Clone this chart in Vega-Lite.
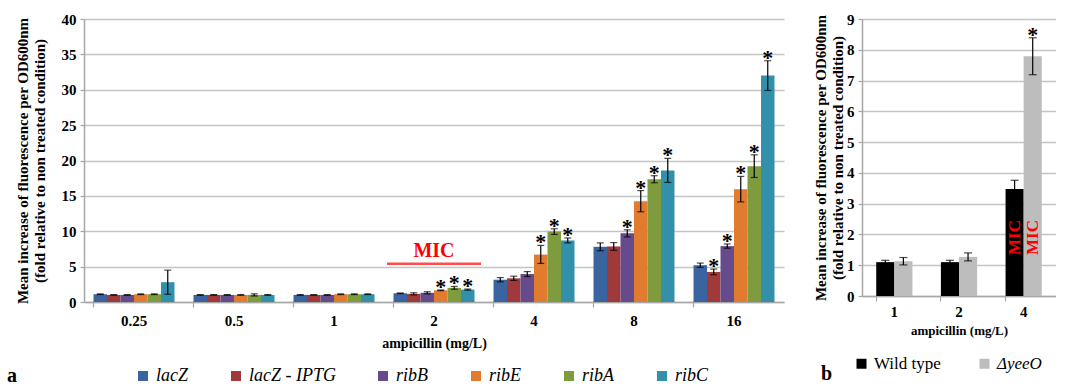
{
  "$schema": "https://vega.github.io/schema/vega-lite/v6.json",
  "padding": {"left": 7, "top": 12, "right": 0, "bottom": 0},
  "spacing": 29,
  "resolve": {"scale": {"x": "independent", "xOffset": "independent", "y": "independent", "color": "independent"}, "legend": {"color": "independent"}},
  "config": {
    "font": "Liberation Serif, Times New Roman, serif",
    "view": {"stroke": null},
    "text": {"font": "Liberation Serif, Times New Roman, serif"},
    "axis": {
      "labelFont": "Liberation Serif, Times New Roman, serif", "labelFontWeight": "bold", "labelColor": "#000000", "labelFontSize": 15,
      "titleFont": "Liberation Serif, Times New Roman, serif", "titleFontWeight": "bold", "titleColor": "#000000", "titleFontSize": 15,
      "domainColor": "#A6A6A6", "domainWidth": 1.5, "tickColor": "#A6A6A6", "tickWidth": 1.2,
      "gridColor": "#C4C4C4", "gridWidth": 1.5, "labelOverlap": false
    },
    "axisY": {"tickCount": 12, "tickSize": 4, "labelPadding": 4, "grid": true, "titleLineHeight": 17},
    "axisX": {"grid": false, "bandPosition": 0, "tickSize": 5, "labelPadding": 6, "labelAngle": 0, "titlePadding": 8},
    "legend": {"labelFont": "Liberation Serif, Times New Roman, serif", "titleFont": "Liberation Serif, Times New Roman, serif"}
  },
  "datasets": {
    "a": [
      {"dose": "0.25", "gene": "lacZ", "mean": 1.1, "lo": 1.05, "hi": 1.15, "sig": 0},
      {"dose": "0.25", "gene": "lacZ - IPTG", "mean": 1.0, "lo": 0.95, "hi": 1.05, "sig": 0},
      {"dose": "0.25", "gene": "ribB", "mean": 1.0, "lo": 0.95, "hi": 1.05, "sig": 0},
      {"dose": "0.25", "gene": "ribE", "mean": 1.1, "lo": 1.05, "hi": 1.15, "sig": 0},
      {"dose": "0.25", "gene": "ribA", "mean": 1.1, "lo": 1.05, "hi": 1.15, "sig": 0},
      {"dose": "0.25", "gene": "ribC", "mean": 2.8, "lo": 1.1, "hi": 4.5, "sig": 0},
      {"dose": "0.5", "gene": "lacZ", "mean": 1.0, "lo": 0.95, "hi": 1.05, "sig": 0},
      {"dose": "0.5", "gene": "lacZ - IPTG", "mean": 1.0, "lo": 0.95, "hi": 1.05, "sig": 0},
      {"dose": "0.5", "gene": "ribB", "mean": 1.0, "lo": 0.95, "hi": 1.05, "sig": 0},
      {"dose": "0.5", "gene": "ribE", "mean": 1.0, "lo": 0.95, "hi": 1.05, "sig": 0},
      {"dose": "0.5", "gene": "ribA", "mean": 1.0, "lo": 0.85, "hi": 1.15, "sig": 0},
      {"dose": "0.5", "gene": "ribC", "mean": 1.0, "lo": 0.95, "hi": 1.05, "sig": 0},
      {"dose": "1", "gene": "lacZ", "mean": 1.0, "lo": 0.95, "hi": 1.05, "sig": 0},
      {"dose": "1", "gene": "lacZ - IPTG", "mean": 1.0, "lo": 0.95, "hi": 1.05, "sig": 0},
      {"dose": "1", "gene": "ribB", "mean": 1.0, "lo": 0.95, "hi": 1.05, "sig": 0},
      {"dose": "1", "gene": "ribE", "mean": 1.1, "lo": 1.05, "hi": 1.15, "sig": 0},
      {"dose": "1", "gene": "ribA", "mean": 1.1, "lo": 1.05, "hi": 1.15, "sig": 0},
      {"dose": "1", "gene": "ribC", "mean": 1.1, "lo": 1.05, "hi": 1.15, "sig": 0},
      {"dose": "2", "gene": "lacZ", "mean": 1.23, "lo": 1.18, "hi": 1.28, "sig": 0},
      {"dose": "2", "gene": "lacZ - IPTG", "mean": 1.15, "lo": 1.0, "hi": 1.3, "sig": 0},
      {"dose": "2", "gene": "ribB", "mean": 1.3, "lo": 1.15, "hi": 1.45, "sig": 0},
      {"dose": "2", "gene": "ribE", "mean": 1.65, "lo": 1.6, "hi": 1.7, "sig": 1},
      {"dose": "2", "gene": "ribA", "mean": 2.0, "lo": 1.8, "hi": 2.2, "sig": 1},
      {"dose": "2", "gene": "ribC", "mean": 1.75, "lo": 1.67, "hi": 1.83, "sig": 1},
      {"dose": "4", "gene": "lacZ", "mean": 3.15, "lo": 2.85, "hi": 3.45, "sig": 0},
      {"dose": "4", "gene": "lacZ - IPTG", "mean": 3.35, "lo": 3.05, "hi": 3.65, "sig": 0},
      {"dose": "4", "gene": "ribB", "mean": 3.95, "lo": 3.6, "hi": 4.3, "sig": 0},
      {"dose": "4", "gene": "ribE", "mean": 6.7, "lo": 5.45, "hi": 8.0, "sig": 1},
      {"dose": "4", "gene": "ribA", "mean": 9.95, "lo": 9.55, "hi": 10.35, "sig": 1},
      {"dose": "4", "gene": "ribC", "mean": 8.7, "lo": 8.35, "hi": 9.05, "sig": 1},
      {"dose": "8", "gene": "lacZ", "mean": 7.8, "lo": 7.25, "hi": 8.35, "sig": 0},
      {"dose": "8", "gene": "lacZ - IPTG", "mean": 7.85, "lo": 7.3, "hi": 8.4, "sig": 0},
      {"dose": "8", "gene": "ribB", "mean": 9.7, "lo": 9.2, "hi": 10.2, "sig": 1},
      {"dose": "8", "gene": "ribE", "mean": 14.25, "lo": 12.75, "hi": 15.75, "sig": 1},
      {"dose": "8", "gene": "ribA", "mean": 17.35, "lo": 16.85, "hi": 17.85, "sig": 1},
      {"dose": "8", "gene": "ribC", "mean": 18.6, "lo": 16.9, "hi": 20.3, "sig": 1},
      {"dose": "16", "gene": "lacZ", "mean": 5.2, "lo": 4.9, "hi": 5.5, "sig": 0},
      {"dose": "16", "gene": "lacZ - IPTG", "mean": 4.25, "lo": 3.85, "hi": 4.65, "sig": 1},
      {"dose": "16", "gene": "ribB", "mean": 7.9, "lo": 7.6, "hi": 8.2, "sig": 1},
      {"dose": "16", "gene": "ribE", "mean": 15.95, "lo": 14.15, "hi": 17.75, "sig": 1},
      {"dose": "16", "gene": "ribA", "mean": 19.2, "lo": 17.6, "hi": 20.8, "sig": 1},
      {"dose": "16", "gene": "ribC", "mean": 32.0, "lo": 29.9, "hi": 34.1, "sig": 1}
    ],
    "micA": [{"dose": "2", "level": 5.4, "label": "MIC"}],
    "b": [
      {"dose": "1", "strain": "Wild type", "mean": 1.1, "lo": 1.04, "hi": 1.16, "sig": 0},
      {"dose": "1", "strain": "ΔyeeO", "mean": 1.13, "lo": 1.01, "hi": 1.25, "sig": 0},
      {"dose": "2", "strain": "Wild type", "mean": 1.1, "lo": 1.04, "hi": 1.16, "sig": 0},
      {"dose": "2", "strain": "ΔyeeO", "mean": 1.27, "lo": 1.14, "hi": 1.4, "sig": 0},
      {"dose": "4", "strain": "Wild type", "mean": 3.48, "lo": 3.2, "hi": 3.76, "sig": 0},
      {"dose": "4", "strain": "ΔyeeO", "mean": 7.79, "lo": 7.19, "hi": 8.39, "sig": 1}
    ],
    "micB": [
      {"dose": "4", "strain": "Wild type", "level": 1.9, "label": "MIC"},
      {"dose": "4", "strain": "ΔyeeO", "level": 1.9, "label": "MIC"}
    ]
  },
  "hconcat": [
    {
      "width": 700,
      "height": 283,
      "data": {"name": "a"},
      "encoding": {
        "x": {
          "field": "dose", "type": "ordinal",
          "sort": ["0.25", "0.5", "1", "2", "4", "8", "16"],
          "scale": {"paddingInner": 0.19, "paddingOuter": 0.095},
          "title": "ampicillin (mg/L)",
          "axis": {"titleFontSize": 14}
        }
      },
      "layer": [
        {
          "mark": {"type": "bar"},
          "encoding": {
            "xOffset": {"field": "gene", "type": "nominal", "sort": ["lacZ", "lacZ - IPTG", "ribB", "ribE", "ribA", "ribC"], "scale": {"paddingInner": 0}},
            "y": {
              "field": "mean", "type": "quantitative",
              "scale": {"domain": [0, 40], "nice": false},
              "title": ["Mean increase of fluorescence per OD600nm", "(fold relative to non treated condition)"],
              "axis": {"values": [0, 5, 10, 15, 20, 25, 30, 35, 40], "tickCount": 12, "titlePadding": 14}
            },
            "color": {
              "field": "gene", "type": "nominal",
              "scale": {"domain": ["lacZ", "lacZ - IPTG", "ribB", "ribE", "ribA", "ribC"], "range": ["#3A64A0", "#A03A3A", "#654A8C", "#E07B30", "#7E9B3E", "#3390AB"]},
              "legend": {
                "orient": "none", "legendX": -77, "legendY": 348, "direction": "horizontal",
                "title": "a", "titleOrient": "left", "titleFontSize": 20, "titleFontWeight": "bold", "titleColor": "#000000", "titlePadding": 117,
                "symbolType": "square", "symbolSize": 100, "symbolStrokeWidth": 0, "symbolOpacity": 1,
                "labelFontSize": 18, "labelFontStyle": "italic", "labelColor": "#000000", "labelOffset": 4, "columnPadding": 38
              }
            }
          }
        },
        {
          "mark": {"type": "rule", "color": "#000000", "strokeWidth": 1.2},
          "encoding": {
            "xOffset": {"field": "gene", "type": "nominal", "sort": ["lacZ", "lacZ - IPTG", "ribB", "ribE", "ribA", "ribC"]},
            "y": {"field": "lo", "type": "quantitative", "axis": {"values": [0, 5, 10, 15, 20, 25, 30, 35, 40], "tickCount": 12, "titlePadding": 14}},
            "y2": {"field": "hi"}
          }
        },
        {
          "mark": {"type": "tick", "color": "#000000", "size": 7, "thickness": 1.2},
          "encoding": {
            "xOffset": {"field": "gene", "type": "nominal", "sort": ["lacZ", "lacZ - IPTG", "ribB", "ribE", "ribA", "ribC"]},
            "y": {"field": "lo", "type": "quantitative", "axis": {"values": [0, 5, 10, 15, 20, 25, 30, 35, 40], "tickCount": 12, "titlePadding": 14}}
          }
        },
        {
          "mark": {"type": "tick", "color": "#000000", "size": 7, "thickness": 1.2},
          "encoding": {
            "xOffset": {"field": "gene", "type": "nominal", "sort": ["lacZ", "lacZ - IPTG", "ribB", "ribE", "ribA", "ribC"]},
            "y": {"field": "hi", "type": "quantitative", "axis": {"values": [0, 5, 10, 15, 20, 25, 30, 35, 40], "tickCount": 12, "titlePadding": 14}}
          }
        },
        {
          "transform": [{"filter": "datum.sig == 1"}],
          "mark": {"type": "text", "text": "*", "fontSize": 22, "fontWeight": "bold", "color": "#000000", "baseline": "alphabetic", "dy": 4},
          "encoding": {
            "xOffset": {"field": "gene", "type": "nominal", "sort": ["lacZ", "lacZ - IPTG", "ribB", "ribE", "ribA", "ribC"]},
            "y": {"field": "hi", "type": "quantitative", "axis": {"values": [0, 5, 10, 15, 20, 25, 30, 35, 40], "tickCount": 12, "titlePadding": 14}}
          }
        },
        {
          "data": {"name": "micA"},
          "mark": {"type": "tick", "color": "#FF0000", "size": 94, "thickness": 2.5},
          "encoding": {"y": {"field": "level", "type": "quantitative", "axis": {"values": [0, 5, 10, 15, 20, 25, 30, 35, 40], "tickCount": 12, "titlePadding": 14}}}
        },
        {
          "data": {"name": "micA"},
          "mark": {"type": "text", "color": "#FF0000", "fontSize": 20, "fontWeight": "bold", "baseline": "alphabetic", "dy": -7},
          "encoding": {"y": {"field": "level", "type": "quantitative", "axis": {"values": [0, 5, 10, 15, 20, 25, 30, 35, 40], "tickCount": 12, "titlePadding": 14}}, "text": {"field": "label"}}
        }
      ]
    },
    {
      "width": 194,
      "height": 277,
      "data": {"name": "b"},
      "encoding": {
        "x": {
          "field": "dose", "type": "ordinal", "sort": ["1", "2", "4"],
          "scale": {"paddingInner": 0.44, "paddingOuter": 0.22},
          "title": "ampicillin (mg/L)",
          "axis": {"titleFontSize": 13, "labelPadding": 3, "titlePadding": 5}
        }
      },
      "layer": [
        {
          "mark": {"type": "bar"},
          "encoding": {
            "xOffset": {"field": "strain", "type": "nominal", "sort": ["Wild type", "ΔyeeO"], "scale": {"paddingInner": 0}},
            "y": {
              "field": "mean", "type": "quantitative",
              "scale": {"domain": [0, 9], "nice": false},
              "title": ["Mean increase of fluorescence per OD600nm", "(fold relative to non treated condition)"],
              "axis": {"values": [0, 1, 2, 3, 4, 5, 6, 7, 8, 9], "tickCount": 12, "titlePadding": 1}
            },
            "color": {
              "field": "strain", "type": "nominal",
              "scale": {"domain": ["Wild type", "ΔyeeO"], "range": ["#000000", "#BDBDBD"]},
              "legend": {
                "orient": "none", "legendX": -41, "legendY": 336, "direction": "horizontal",
                "title": "b", "titleOrient": "left", "titleFontSize": 20, "titleFontWeight": "bold", "titleColor": "#000000", "titlePadding": 20,
                "symbolType": "square", "symbolSize": 100, "symbolStrokeWidth": 0, "symbolOpacity": 1,
                "labelFontSize": 17, "labelColor": "#000000", "labelOffset": 4, "columnPadding": 35,
                "encode": {
                  "title": {"update": {"dy": {"value": 11}}},
                  "labels": {"update": {"fontStyle": {"signal": "datum.label == 'ΔyeeO' ? 'italic' : 'normal'"}}}
                }
              }
            }
          }
        },
        {
          "mark": {"type": "rule", "color": "#000000", "strokeWidth": 1.2},
          "encoding": {
            "xOffset": {"field": "strain", "type": "nominal", "sort": ["Wild type", "ΔyeeO"]},
            "y": {"field": "lo", "type": "quantitative", "axis": {"values": [0, 1, 2, 3, 4, 5, 6, 7, 8, 9], "tickCount": 12, "titlePadding": 1}},
            "y2": {"field": "hi"}
          }
        },
        {
          "mark": {"type": "tick", "color": "#000000", "size": 8, "thickness": 1.2},
          "encoding": {
            "xOffset": {"field": "strain", "type": "nominal", "sort": ["Wild type", "ΔyeeO"]},
            "y": {"field": "lo", "type": "quantitative", "axis": {"values": [0, 1, 2, 3, 4, 5, 6, 7, 8, 9], "tickCount": 12, "titlePadding": 1}}
          }
        },
        {
          "mark": {"type": "tick", "color": "#000000", "size": 8, "thickness": 1.2},
          "encoding": {
            "xOffset": {"field": "strain", "type": "nominal", "sort": ["Wild type", "ΔyeeO"]},
            "y": {"field": "hi", "type": "quantitative", "axis": {"values": [0, 1, 2, 3, 4, 5, 6, 7, 8, 9], "tickCount": 12, "titlePadding": 1}}
          }
        },
        {
          "transform": [{"filter": "datum.sig == 1"}],
          "mark": {"type": "text", "text": "*", "fontSize": 22, "fontWeight": "bold", "color": "#000000", "baseline": "alphabetic", "dy": 4},
          "encoding": {
            "xOffset": {"field": "strain", "type": "nominal", "sort": ["Wild type", "ΔyeeO"]},
            "y": {"field": "hi", "type": "quantitative", "axis": {"values": [0, 1, 2, 3, 4, 5, 6, 7, 8, 9], "tickCount": 12, "titlePadding": 1}}
          }
        },
        {
          "data": {"name": "micB"},
          "mark": {"type": "text", "color": "#FF0000", "fontSize": 17, "fontWeight": "bold", "angle": 270, "align": "center", "baseline": "middle"},
          "encoding": {
            "xOffset": {"field": "strain", "type": "nominal", "sort": ["Wild type", "ΔyeeO"]},
            "y": {"field": "level", "type": "quantitative", "axis": {"values": [0, 1, 2, 3, 4, 5, 6, 7, 8, 9], "tickCount": 12, "titlePadding": 1}},
            "text": {"field": "label"}
          }
        }
      ]
    }
  ]
}
